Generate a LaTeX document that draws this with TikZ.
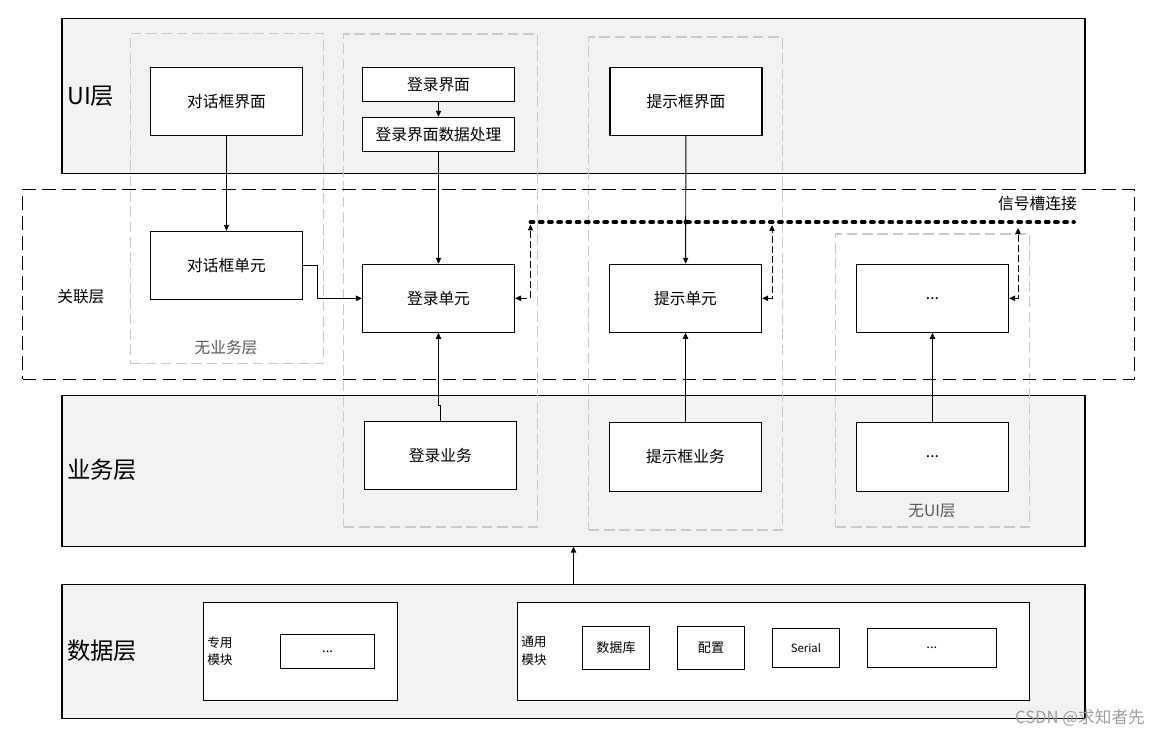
\documentclass[tikz,border=0pt]{standalone}
\usepackage{fontspec}
\setmainfont{Noto Sans CJK SC}
\usepackage{tikz}
\usetikzlibrary{arrows.meta, positioning}

\definecolor{layergray}{HTML}{F2F2F2}
\definecolor{framegray}{HTML}{C8C8C8}
\definecolor{notegray}{HTML}{595959}

\begin{document}
\begin{tikzpicture}[x=0.75pt, y=-0.75pt, >={Triangle[length=4.5pt,width=4pt]},
  sz/.style 2 args={minimum width=#1*0.75pt, minimum height=#2*0.75pt},
  layer/.style={draw, fill=layergray, line width=0.8pt, inner sep=0pt},
  frame/.style={draw=framegray, dash pattern=on 8pt off 3.5pt, line width=0.8pt, inner sep=0pt},
  linkframe/.style={draw, dash pattern=on 10pt off 5pt, line width=0.8pt, inner sep=0pt},
  box/.style={draw, fill=white, line width=0.8pt, inner sep=0pt, font=\fontsize{11.8pt}{14pt}\selectfont},
  smallbox/.style={box, font=\fontsize{9.8pt}{12pt}\selectfont},
  title/.style={anchor=west, inner sep=0pt, font=\fontsize{17.5pt}{20pt}\selectfont},
  note/.style={inner sep=0pt, font=\fontsize{11.8pt}{14pt}\selectfont},
  conn/.style={->, line width=0.7pt},
  sig/.style={<->, dash pattern=on 5pt off 2.5pt, line width=0.75pt},
  bus/.style={line width=2.8pt, line cap=round, dash pattern=on 2.3pt off 4.6pt}
]
\useasboundingbox (0,0) rectangle (1171,737);

% Layers
\node[layer, sz={1023}{155}] (ui) at (573.5,95.8) {};
\node[layer, sz={1023}{150.7}] (biz) at (573.5,470.7) {};
\node[layer, sz={1023}{134}] (data) at (573.5,651.3) {};

% Columns
\node[frame, sz={193.5}{329.5}] (colA) at (226.8,198.3) {};
\node[frame, sz={193.5}{493}] (colB) at (440.5,280.5) {};
\node[frame, sz={193.5}{493}] (colC) at (685.5,283.5) {};
\node[frame, sz={194}{293}] (colD) at (932.6,380.5) {};
\node[linkframe, sz={1111.5}{190}] (link) at (578.3,284.2) {};

% Layer titles
\node[title] (uititle) at (67,96) {UI层};
\node[title] (biztitle) at (67,470) {业务层};
\node[title] (datatitle) at (67,651) {数据层};
\node[note, anchor=west] (linktitle) at (57,297) {关联层};
\node[note] (sigtitle) at (1037.5,203.3) {信号槽连接};
\node[note, text=notegray] (nobiz) at (226,348) {无业务层};
\node[note, text=notegray] (noui) at (932,510.5) {无UI层};

% UI boxes
\node[box, sz={152}{68}] (dlgui) at (226.5,101.3) {对话框界面};
\node[box, sz={152}{34}] (loginui) at (438.5,84.3) {登录界面};
\node[box, sz={152}{34}] (loginproc) at (438.5,134.3) {登录界面数据处理};
\node[box, sz={152}{68}] (tipui) at (686,101.3) {提示框界面};

% Link units
\node[box, sz={152}{68}] (dlgunit) at (226.5,265.3) {对话框单元};
\node[box, sz={152}{68}] (loginunit) at (438.5,298.3) {登录单元};
\node[box, sz={152}{68}] (tipunit) at (685.5,298.3) {提示单元};
\node[box, sz={152}{68}] (moreunit) at (932.5,298.3) {...};

% Business boxes
\node[box, sz={152}{68}] (loginbiz) at (440.3,455.3) {登录业务};
\node[box, sz={152}{69}] (tipbiz) at (685.5,456.8) {提示框业务};
\node[box, sz={152}{69}] (morebiz) at (932.5,456.8) {...};

% Data modules
\node[box, sz={194.6}{98}] (special) at (300.5,651.3) {};
\node[smallbox, sz={94.5}{34}] (specialmore) at (327.6,651.3) {...};
\node[anchor=west, inner sep=0pt, align=left, font=\fontsize{9.5pt}{13pt}\selectfont] (speciallabel) at (207,651) {专用\\模块};
\node[box, sz={512}{98}] (common) at (773.6,651.3) {};
\node[anchor=west, inner sep=0pt, align=left, font=\fontsize{9.5pt}{13pt}\selectfont] (commonlabel) at (521,651) {通用\\模块};
\node[smallbox, sz={67.4}{42.7}] (db) at (616,648) {数据库};
\node[smallbox, sz={67.4}{42.7}] (config) at (711,648) {配置};
\node[smallbox, sz={67.4}{39}, font=\fontsize{8.5pt}{10pt}\selectfont] (serial) at (806,647.8) {Serial};
\node[smallbox, sz={129.3}{39}] (commonmore) at (931.9,647.8) {...};

% Arrows
\draw[conn] (dlgui) -- (dlgunit);
\draw[conn] (loginui) -- (loginproc);
\draw[conn] (loginproc) -- (loginunit);
\draw[conn] (tipui) -- (tipunit);
\draw[conn] (dlgunit.east) -- ++(14,0) |- (loginunit.west);
\draw[conn] (loginbiz.north) -- ++(0,-15) -| (loginunit.south);
\draw[conn] (tipbiz) -- (tipunit);
\draw[conn] (morebiz) -- (moreunit);
\draw[conn] (data) -- (biz);

% Signal slot bus
\coordinate (busstart) at (530.5,222);
\coordinate (busend) at (1074,222);
\coordinate (s1) at (530.5,224.5);
\coordinate (s2) at (772,225);
\coordinate (s3) at (1018,228);
\draw[bus] (busstart) -- (busend);
\fill (tipui.south |- busstart) circle (2.4);
\draw[sig] (loginunit.east) -| (s1);
\draw[sig] (tipunit.east) -| (s2);
\draw[sig] (moreunit.east) -| (s3);

\node[text=black!38, inner sep=0pt, font=\fontsize{12.5pt}{14pt}\selectfont] (mark) at (1080,718) {CSDN @求知者先};

\end{tikzpicture}
\end{document}
